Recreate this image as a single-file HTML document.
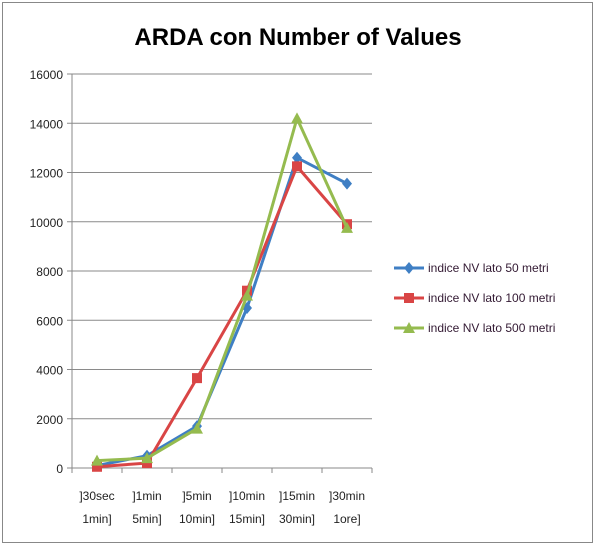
<!DOCTYPE html>
<html><head><meta charset="utf-8"><style>
body{margin:0;background:#fff;}
svg{display:block;font-family:"Liberation Sans",sans-serif;}
</style></head><body>
<svg id="c" width="597" height="549">
<rect x="2.5" y="2.5" width="590" height="540" fill="#fff" stroke="#888"/>
<text x="298" y="45" text-anchor="middle" font-size="24" font-weight="bold" fill="#000">ARDA con Number of Values</text>
<g id="grid"></g><g id="series"></g><g id="legend"></g>
</svg>
<script>
const categories1=["]30sec","]1min","]5min","]10min","]15min","]30min"];
const categories2=["1min]","5min]","10min]","15min]","30min]","1ore]"];
const yTicks=[0,2000,4000,6000,8000,10000,12000,14000,16000];
const s50=[100,500,1700,6500,12600,11550];
const s100=[50,200,3650,7200,12250,9900];
const s500=[300,400,1600,7000,14200,9750];
const seriesNames=["indice NV lato 50 metri","indice NV lato 100 metri","indice NV lato 500 metri"];
const NS="http://www.w3.org/2000/svg";
const X0=72,X1=372,Y0=468,Y1=74;
const x=i=>X0+(i+0.5)*(X1-X0)/categories1.length;
const y=v=>Y0-(v/16000)*(Y0-Y1);
function mk(t,a,p){const e=document.createElementNS(NS,t);for(const k in a)e.setAttribute(k,a[k]);p.appendChild(e);return e;}
const g=document.getElementById('grid');
yTicks.forEach(v=>{
 const l=mk('line',{x1:X0-5,x2:X1,y1:y(v),y2:y(v),stroke:v===0?'#888':'#8a8a8a','stroke-width':1},g);
 
 
 const t=mk('text',{x:X0-9,y:y(v)+5,'text-anchor':'end','font-size':12,fill:'#222'},g);t.textContent=v;
 
 
});
const ax=mk('line',{x1:X0,x2:X0,y1:Y1,y2:Y0,stroke:'#888'},g);


for(let i=0;i<=categories1.length;i++){
 const xx=X0+i*(X1-X0)/categories1.length;
 const tk=mk('line',{x1:xx,x2:xx,y1:Y0,y2:Y0+5,stroke:'#888'},g);
 
 
}
categories1.forEach((c,i)=>{
 const t=mk('text',{x:x(i),y:500,'text-anchor':'middle','font-size':12,fill:'#222'},g);t.textContent=c;
 
 
 const t2=mk('text',{x:x(i),y:523,'text-anchor':'middle','font-size':12,fill:'#222'},g);t2.textContent=categories2[i];
 
 
});
function marker(type,cx,cy,col,p){
 if(type==='d')return mk('polygon',{points:`${cx},${cy-6} ${cx+5},${cy} ${cx},${cy+6} ${cx-5},${cy}`,fill:col},p);
 if(type==='s')return mk('rect',{x:cx-5,y:cy-5,width:10,height:10,fill:col},p);
 return mk('polygon',{points:`${cx},${cy-6} ${cx+6},${cy+5} ${cx-6},${cy+5}`,fill:col},p);
}
const S=document.getElementById('series');
const defs=[[s50,'#3f7fc4','d'],[s100,'#d94545','s'],[s500,'#95bb4f','t']];
defs.forEach(([d,col,m],k)=>{
 const pl=mk('polyline',{points:d.map((v,i)=>x(i)+','+y(v)).join(' '),fill:'none',stroke:col,'stroke-width':3},S);
 
 
 d.forEach((v,i)=>{const e=marker(m,x(i),y(v),col,S);
  
  });
});
const L=document.getElementById('legend');
defs.forEach(([d,col,m],k)=>{
 const yy=268+k*30;
 const ln=mk('line',{x1:394,x2:424,y1:yy,y2:yy,stroke:col,'stroke-width':3},L);
 
 
 marker(m,409,yy,col,L);
 const t=mk('text',{x:428,y:yy+4,'font-size':12,fill:'#331a33'},L);t.textContent=seriesNames[k];
 
 
});
</script>
</body></html>
